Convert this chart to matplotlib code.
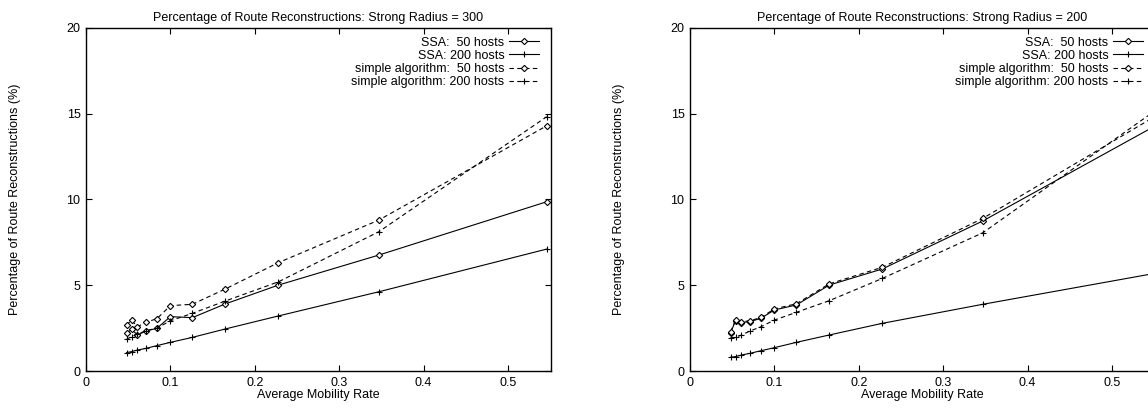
import matplotlib
matplotlib.use("Agg")
import matplotlib.pyplot as plt
from matplotlib.ticker import FixedLocator, FuncFormatter

plt.rcParams['font.family'] = ['Liberation Sans', 'DejaVu Sans']
plt.rcParams['font.size'] = 9

# ---------------- data ----------------
mobility = [0.048, 0.054, 0.061, 0.071, 0.084, 0.100, 0.126, 0.165, 0.228, 0.347, 0.546]

# Strong Radius = 300
r300_ssa_50 = [2.20, 2.43, 2.10, 2.33, 2.49, 3.17, 3.11, 3.91, 5.01, 6.76, 9.87]
r300_ssa_200 = [1.07, 1.13, 1.22, 1.32, 1.48, 1.67, 1.96, 2.45, 3.21, 4.62, 7.11]
r300_simple_50 = [2.68, 2.97, 2.58, 2.84, 3.05, 3.81, 3.89, 4.78, 6.32, 8.80, 14.30]
r300_simple_200 = [1.85, 2.00, 2.15, 2.35, 2.50, 2.93, 3.36, 4.08, 5.20, 8.12, 14.83]

# Strong Radius = 200
r200_ssa_50 = [2.23, 2.93, 2.82, 2.88, 3.07, 3.56, 3.85, 5.01, 5.95, 8.75, 14.15]
r200_ssa_200 = [0.80, 0.84, 0.93, 1.03, 1.18, 1.36, 1.67, 2.10, 2.78, 3.89, 5.65]
r200_simple_50 = [2.28, 2.98, 2.87, 2.93, 3.12, 3.62, 3.92, 5.08, 6.05, 8.90, 14.70]
r200_simple_200 = [1.94, 1.96, 2.10, 2.33, 2.58, 2.97, 3.42, 4.10, 5.40, 8.06, 15.00]

labels = ["SSA:  50 hosts", "SSA: 200 hosts",
          "simple algorithm:  50 hosts", "simple algorithm: 200 hosts"]
titles = ["Percentage of Route Reconstructions: Strong Radius = 300",
          "Percentage of Route Reconstructions: Strong Radius = 200"]
x_ticks = [0, 0.1, 0.2, 0.3, 0.4, 0.5]
y_ticks = [0, 5, 10, 15, 20]

W, H = 1148, 411
fig = plt.figure(figsize=(W / 100, H / 100), dpi=100)

def px_axes(left, right, top, bottom):
    return fig.add_axes([left / W, (H - bottom) / H, (right - left) / W, (bottom - top) / H])

ax1 = px_axes(86, 551, 28, 371)
ax2 = px_axes(690, 1155, 28, 371)

styles = [dict(ls='-', marker='D', mfc='white', ms=3.2, mew=0.8),
          dict(ls='-', marker='+', ms=5, mew=0.8),
          dict(ls=(0, (4, 3)), marker='D', mfc='white', ms=3.2, mew=0.8),
          dict(ls=(0, (4, 3)), marker='+', ms=5, mew=0.8)]

def draw(ax, series, title):
    for ys, lab, st in zip(series, labels, styles):
        ax.plot(mobility, ys, color='black', lw=0.8, label=lab, **st)
    ax.set_xlim(0, 0.551)
    ax.set_ylim(0, 20)
    ax.xaxis.set_major_locator(FixedLocator(x_ticks))
    ax.yaxis.set_major_locator(FixedLocator(y_ticks))
    ax.xaxis.set_major_formatter(FuncFormatter(lambda v, p: '0' if v == 0 else f'{v:g}'))
    ax.tick_params(direction='in', top=True, right=True, length=4, width=0.8, pad=4)
    for s in ax.spines.values():
        s.set_linewidth(1.0)
    ax.set_title(title, fontsize=9, pad=5)
    ax.set_xlabel("Average Mobility Rate", labelpad=0)
    ax.set_ylabel("Percentage of Route Reconstructions (%)")
    ax.yaxis.set_label_coords(-0.14, 0.5)
    ax.legend(loc='upper right', bbox_to_anchor=(0.975, 0.975), frameon=False,
              markerfirst=False, handlelength=2.4, handletextpad=0.4,
              labelspacing=0.1, borderpad=0, borderaxespad=0, fontsize=9)

draw(ax1, [r300_ssa_50, r300_ssa_200, r300_simple_50, r300_simple_200], titles[0])
draw(ax2, [r200_ssa_50, r200_ssa_200, r200_simple_50, r200_simple_200], titles[1])

fig.savefig("out.png", dpi=100)
